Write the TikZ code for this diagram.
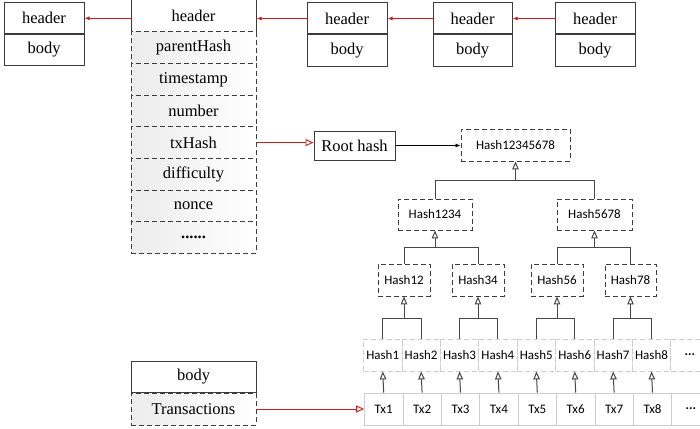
\documentclass[tikz,border=0pt]{standalone}
\usepackage{fontspec}
\setmainfont{Liberation Serif}
\newfontfamily\calfont{Carlito}
\usetikzlibrary{arrows.meta}
\definecolor{redarr}{RGB}{200,30,30}
\definecolor{dkline}{RGB}{60,60,60}
\definecolor{treeline}{RGB}{70,70,70}
\definecolor{leafline}{RGB}{205,205,205}
\tikzset{
  sbox/.style={draw=dkline, line width=1pt, rectangle, inner sep=0pt, font=\fontsize{16.5}{18}\selectfont},
  dbox/.style={sbox, dash pattern=on 5pt off 3pt, left color=gray!15, right color=white},
  hbox/.style={draw=dkline, line width=0.9pt, dash pattern=on 5pt off 3pt, rectangle, inner sep=0pt, font=\calfont\fontsize{13}{15}\selectfont},
  leafh/.style={draw=leafline, line width=0.8pt, dash pattern=on 5pt off 3pt, rectangle, inner sep=0pt, minimum width=38.4pt, minimum height=32pt, font=\calfont\fontsize{13}{15}\selectfont},
  leaft/.style={leafh, solid},
  redarrow/.style={draw=redarr, line width=0.9pt, -{Latex[length=5pt,width=4pt]}},
  redopen/.style={draw=redarr, line width=0.9pt, -{Triangle[open,length=8pt,width=7pt]}},
  tline/.style={draw=treeline, line width=1pt},
  tarrow/.style={tline, -{Triangle[open,length=8pt,width=6.5pt]}},
  blackarrow/.style={draw=black, line width=0.8pt, -{Latex[length=5pt,width=4pt]}}
}
\begin{document}
\begin{tikzpicture}[x=1pt,y=-1pt]
\useasboundingbox (0,0) rectangle (700,428);
% top chain
\node[sbox, minimum width=80pt, minimum height=30.5pt] (h1) at (44,18.25) {header};
\node[sbox, minimum width=80pt, minimum height=30.5pt, anchor=north] (b1) at (h1.south) {body};
\node[sbox, minimum width=125pt, minimum height=32.5pt] (hm) at (193.5,15.75) {header};
\node[dbox, minimum width=125pt, minimum height=31.6pt] (f1) at (193.5,47.8) {parentHash};
\node[dbox, minimum width=125pt, minimum height=31.6pt] (f2) at (193.5,79.4) {timestamp};
\node[dbox, minimum width=125pt, minimum height=31.6pt] (f3) at (193.5,111.0) {number};
\node[dbox, minimum width=125pt, minimum height=31.6pt] (f4) at (193.5,142.6) {txHash};
\node[dbox, minimum width=125pt, minimum height=31.6pt] (f5) at (193.5,174.2) {difficulty};
\node[dbox, minimum width=125pt, minimum height=31.6pt] (f6) at (193.5,205.8) {nonce};
\node[dbox, minimum width=125pt, minimum height=31.6pt] (f7) at (193.5,237.4) {\textbf{......}};
\node[sbox, minimum width=80pt, minimum height=31pt] (h2) at (347,18.5) {header};
\node[sbox, minimum width=80pt, minimum height=31pt, anchor=north] (b2) at (h2.south) {body};
\node[sbox, minimum width=79pt, minimum height=31pt] (h3) at (472.5,18.5) {header};
\node[sbox, minimum width=79pt, minimum height=31pt, anchor=north] (b3) at (h3.south) {body};
\node[sbox, minimum width=80pt, minimum height=31pt] (h4) at (595,18.5) {header};
\node[sbox, minimum width=80pt, minimum height=31pt, anchor=north] (b4) at (h4.south) {body};
\draw[redarrow] (h4.west) -- (h3.east);
\draw[redarrow] (h3.west) -- (h2.east);
\draw[redarrow] (h2.west) -- (h2.west -| hm.east);
\draw[redarrow] (hm.west |- h1.east) -- (h1.east);
% body box
\node[sbox, minimum width=125pt, minimum height=31pt] (bb) at (193.5,376.5) {body};
\node[dbox, minimum width=125pt, minimum height=32pt, anchor=north] (tx) at (bb.south) {Transactions};
% root hash
\node[sbox, minimum width=81pt, minimum height=29pt] (rh) at (354.5,145.5) {Root hash};
\draw[redopen] (f4.east) -- (f4.east -| rh.west);
% tree
\node[hbox, minimum width=109pt, minimum height=32pt] (r) at (515.5,145) {Hash12345678};
\draw[blackarrow] (rh.east) -- (rh.east -| r.west);
\node[hbox, minimum width=74pt, minimum height=31pt] (a1) at (435,214.5) {Hash1234};
\node[hbox, minimum width=75pt, minimum height=31pt] (a2) at (594.5,214.5) {Hash5678};
\node[hbox, minimum width=52pt, minimum height=32pt] (c1) at (404,280) {Hash12};
\node[hbox, minimum width=52pt, minimum height=32pt] (c2) at (478,280) {Hash34};
\node[hbox, minimum width=52pt, minimum height=32pt] (c3) at (557,280) {Hash56};
\node[hbox, minimum width=51pt, minimum height=32pt] (c4) at (630.5,280) {Hash78};
% leaves
\foreach \i/\lab in {1/Hash1,2/Hash2,3/Hash3,4/Hash4,5/Hash5,6/Hash6,7/Hash7,8/Hash8,9/{\textbf{...}}}{
  \node[leafh] (l\i) at ({363.5+19.2+38.4*(\i-1)},355) {\lab};
}
\foreach \i/\lab in {1/Tx1,2/Tx2,3/Tx3,4/Tx4,5/Tx5,6/Tx6,7/Tx7,8/Tx8,9/{\textbf{...}}}{
  \node[leaft] (t\i) at ({364.5+19.2+38.4*(\i-1)},409) {\lab};
}
\foreach \i in {1,...,8}{
  \draw[tarrow] (t\i.north) -- (l\i.south);
}
\draw[redopen] (tx.east) -- (tx.east -| t1.west);
% tree connectors
\coordinate (j0) at (515.5,180);
\draw[tarrow] (j0) -- (r.south);
\draw[tline] (a1.north) |- (a2.north |- j0) -- (a2.north);
\coordinate (j1) at (435,247);
\draw[tarrow] (j1) -- (a1.south);
\draw[tline] (c1.north) |- (c2.north |- j1) -- (c2.north);
\coordinate (j2) at (594.5,247);
\draw[tarrow] (j2) -- (a2.south);
\draw[tline] (c3.north) |- (c4.north |- j2) -- (c4.north);
\coordinate (k1) at (404,318);
\draw[tarrow] (k1) -- (c1.south);
\draw[tline] (l1.north) |- (l2.north |- k1) -- (l2.north);
\coordinate (k2) at (478,318);
\draw[tarrow] (k2) -- (c2.south);
\draw[tline] (l3.north) |- (l4.north |- k2) -- (l4.north);
\coordinate (k3) at (557,318);
\draw[tarrow] (k3) -- (c3.south);
\draw[tline] (l5.north) |- (l6.north |- k3) -- (l6.north);
\coordinate (k4) at (630.5,318);
\draw[tarrow] (k4) -- (c4.south);
\draw[tline] (l7.north) |- (l8.north |- k4) -- (l8.north);
\end{tikzpicture}
\end{document}
